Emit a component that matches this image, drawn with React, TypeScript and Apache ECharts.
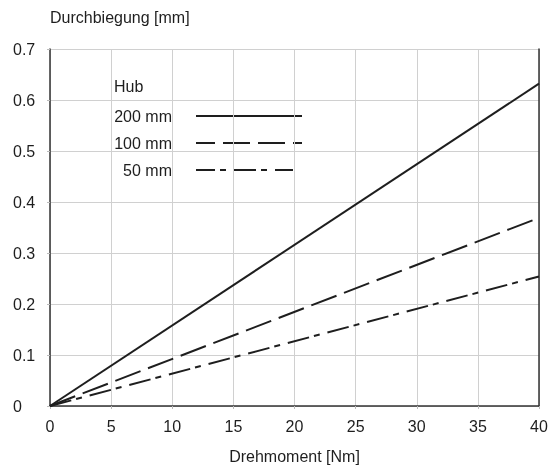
import React, { useEffect, useRef } from "react";
import * as echarts from "echarts";

const torque = [0, 40];
const hub200 = [0, 0.632];
const hub100 = [0, 0.369];
const hub50 = [0, 0.254];
const legendLabels = ["200 mm", "100 mm", "50 mm"];
const xTicks = { min: 0, max: 40, interval: 5 };
const yTicks = { min: 0, max: 0.7, interval: 0.1 };

const FONT = "'Liberation Sans', Arial, sans-serif";
const INK = "#1e1e1e";
const dashes: any[] = ["solid", [27, 8], [22, 5, 6, 8]];
const dashOffsets = [0, 8, 3];

export default function App() {
  const ref = useRef<HTMLDivElement>(null);
  useEffect(() => {
    const chart = echarts.init(ref.current!, null, { renderer: "svg" });
    const seriesData = [hub200, hub100, hub50];
    const legendY = [116, 143, 170];
    const graphic: any[] = [
      {
        type: "text",
        x: 114,
        y: 86,
        style: { text: "Hub", font: `16px ${FONT}`, fill: INK, verticalAlign: "middle" },
      },
    ];
    legendLabels.forEach((lab, i) => {
      graphic.push({
        type: "text",
        x: 172,
        y: legendY[i],
        style: {
          text: lab,
          font: `16px ${FONT}`,
          fill: INK,
          align: "right",
          verticalAlign: "middle",
        },
      });
      graphic.push({
        type: "line",
        shape: { x1: 196, y1: legendY[i], x2: i === 2 ? 293 : 302, y2: legendY[i] },
        style: {
          stroke: INK,
          lineWidth: 2,
          lineDash: dashes[i] === "solid" ? null : dashes[i],
          lineDashOffset: dashOffsets[i],
        },
      });
    });
    chart.setOption({
      animation: false,
      grid: { left: 50, right: 13, top: 49, bottom: 64 },
      graphic,
      xAxis: {
        type: "value",
        ...xTicks,
        name: "Drehmoment [Nm]",
        nameLocation: "middle",
        nameGap: 42,
        nameTextStyle: { fontFamily: FONT, fontSize: 16, color: INK },
        axisLine: { show: true, lineStyle: { color: "#333", width: 1.5 } },
        axisTick: { show: true, length: 3, lineStyle: { color: "#bbb" } },
        axisLabel: { fontFamily: FONT, fontSize: 16, color: INK, margin: 12 },
        splitLine: { show: true, lineStyle: { color: "#d0d0d0", width: 1 } },
      },
      yAxis: [
        {
          type: "value",
          ...yTicks,
          name: "Durchbiegung [mm]",
          nameLocation: "end",
          nameGap: 24,
          nameTextStyle: { fontFamily: FONT, fontSize: 16, color: INK, align: "left" },
          axisLine: { show: true, lineStyle: { color: "#333", width: 1.5 } },
          axisTick: { show: true, length: 3, lineStyle: { color: "#bbb" } },
          axisLabel: {
            fontFamily: FONT,
            fontSize: 16,
            color: INK,
            align: "left",
            margin: 37,
            formatter: (v: number) => (v === 0 ? "0" : v.toFixed(1)),
          },
          splitLine: { show: true, lineStyle: { color: "#d0d0d0", width: 1 } },
        },
        {
          type: "value",
          ...yTicks,
          position: "right",
          axisLine: { show: true, onZero: false, lineStyle: { color: "#333", width: 1.5 } },
          axisTick: { show: false },
          axisLabel: { show: false },
          splitLine: { show: false },
        },
      ],
      series: seriesData.map((d, i) => ({
        type: "line",
        name: legendLabels[i],
        data: torque.map((t, k) => [t, d[k]]),
        showSymbol: false,
        symbol: "none",
        lineStyle: { color: INK, width: 2, type: dashes[i] },
      })),
    });
    return () => chart.dispose();
  }, []);
  return (
    <div
      ref={ref}
      style={{ position: "fixed", left: 0, top: 0, width: 552, height: 470 }}
    />
  );
}
